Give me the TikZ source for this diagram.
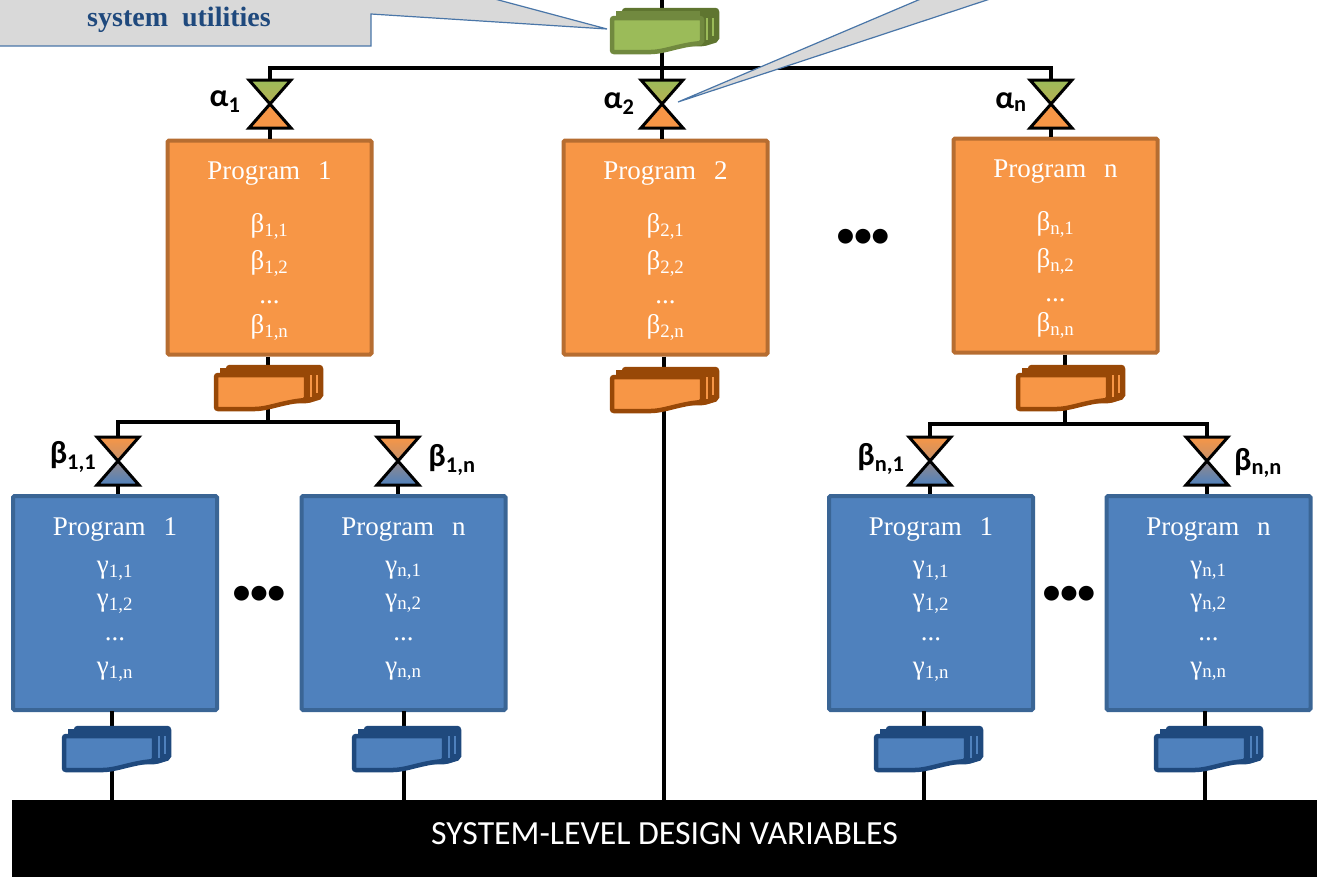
\documentclass[tikz,border=0pt]{standalone}
\usepackage{fontspec}
\setmainfont{Liberation Serif}
\setsansfont{Carlito}
\usetikzlibrary{calc,positioning}

\definecolor{orangefill}{HTML}{F79646}
\definecolor{orangeedge}{HTML}{B66D31}
\definecolor{orangedark}{HTML}{984807}
\definecolor{bluefill}{HTML}{4F81BD}
\definecolor{blueedge}{HTML}{3A6595}
\definecolor{bluedark}{HTML}{1F497D}
\definecolor{greenfill}{HTML}{9BBB59}
\definecolor{greenedge}{HTML}{71893F}
\definecolor{greendark}{HTML}{5F7530}
\definecolor{calloutfill}{HTML}{D9D9D9}
\definecolor{calloutedge}{HTML}{4A76A8}

\newcommand{\sub}[1]{\textsubscript{#1}}

\tikzset{
  wire/.style={line width=4.6pt, black},
  callout/.style={draw=calloutedge, fill=calloutfill, line width=1.2pt},
  progbox/.style={minimum width=204pt, minimum height=214pt, inner sep=0pt,
    rounded corners=1.5pt, line width=4pt, text=white, align=center,
    font=\fontsize{27}{32}\selectfont},
  orangebox/.style={progbox, draw=orangeedge, fill=orangefill},
  bluebox/.style={progbox, draw=blueedge, fill=bluefill},
  greek/.style={font=\sffamily\bfseries\fontsize{32}{36}\selectfont, inner sep=0pt},
  bigdots/.style={font=\sffamily\bfseries\fontsize{35}{35}\selectfont, inner sep=0pt},
  pics/docstack/.style n args={3}{code={
    \draw[line width=4.5pt, draw=#2, fill=#2, rounded corners=2pt]
      (-40,2) -- (53,2) -- (53,32) -- (40,36) -- (-40,36) -- cycle;
    \fill[#1] (48,10) rectangle (50,28);
    \fill[#1] (41.5,10) rectangle (43.5,32);
    \draw[line width=4.5pt, draw=#3, fill=#1, rounded corners=2pt]
      (-52,10) -- (38,10) -- (38,35)
      .. controls (15,37) and (0,44) .. (-15,44) -- (-52,44) -- cycle;
    \fill[#3] (-48,3) rectangle (36,12);
  }},
  pics/valve/.style n args={4}{code={
    \draw[line width=3pt, black, top color=#1, bottom color=#2]
      (-21,0) -- (21,0) -- (0,24) -- cycle;
    \draw[line width=3pt, black, top color=#3, bottom color=#4]
      (0,24) -- (21,48) -- (-21,48) -- cycle;
  }}
}

\begin{document}
\begin{tikzpicture}[x=1pt, y=-1pt]

    \useasboundingbox (0,0) rectangle (1317,879);

    % Valves
    \coordinate (valveA1) at (270,80);
    \coordinate (valveA2) at (662,80);
    \coordinate (valveAn) at (1051,80);
    \coordinate (valveB11) at (118,437);
    \coordinate (valveB1n) at (398,437);
    \coordinate (valveBn1) at (930,437);
    \coordinate (valveBnn) at (1207,437);

    % Document stacks
    \coordinate (docTop) at (664,8);
    \coordinate (doc1) at (268,365);
    \coordinate (doc2) at (664,367);
    \coordinate (docn) at (1070,365);
    \coordinate (doc11) at (116,726);
    \coordinate (doc1n) at (406,726);
    \coordinate (docn1) at (928,726);
    \coordinate (docnn) at (1208,726);

    % Top of the trunk and the two buses
    \coordinate (top) at (662,0);
    \coordinate (busA) at (662,68);
    \coordinate (busB) at (268,422);
    \coordinate (busN) at (1065,424);

    % Programs
    \node[orangebox] (prog1) at (269.5,247.5) {\strut\\[-30pt]Program\ \ \,1\\[21pt]%
      β\sub{1,1}\\[5pt]β\sub{1,2}\\[2pt]...\\[-2pt]β\sub{1,n}};
    \node[orangebox] (prog2) at (665.5,247.5) {\strut\\[-30pt]Program\ \ \,2\\[21pt]%
      β\sub{2,1}\\[5pt]β\sub{2,2}\\[2pt]...\\[-2pt]β\sub{2,n}};
    \node[orangebox] (progn) at (1055.5,245.5) {\strut\\[-30pt]Program\ \ \,n\\[21pt]%
      β\sub{n,1}\\[5pt]β\sub{n,2}\\[2pt]...\\[-2pt]β\sub{n,n}};

    \node[bluebox] (prog11) at (115,603) {Program\ \ \,1\\[6pt]%
      γ\sub{1,1}\\[1pt]γ\sub{1,2}\\[2pt]...\\[2pt]γ\sub{1,n}\\[-27pt]\strut};
    \node[bluebox] (prog1n) at (403.5,603) {Program\ \ \,n\\[6pt]%
      γ\sub{n,1}\\[1pt]γ\sub{n,2}\\[2pt]...\\[2pt]γ\sub{n,n}\\[-27pt]\strut};
    \node[bluebox] (progn1) at (931,603) {Program\ \ \,1\\[6pt]%
      γ\sub{1,1}\\[1pt]γ\sub{1,2}\\[2pt]...\\[2pt]γ\sub{1,n}\\[-27pt]\strut};
    \node[bluebox] (prognn) at (1208.5,603) {Program\ \ \,n\\[6pt]%
      γ\sub{n,1}\\[1pt]γ\sub{n,2}\\[2pt]...\\[2pt]γ\sub{n,n}\\[-27pt]\strut};

    % System level bar
    \node[fill=black, text=white, inner sep=0pt, minimum width=1305pt, minimum height=77pt,
      font=\sffamily\fontsize{33.8}{36}\selectfont] (bar) at (664.5,838.5)
      {\raisebox{10pt}{SYSTEM-LEVEL DESIGN VARIABLES}};

    % Wires of the upper level
    \draw[wire] (top) -- (busA);
    \draw[wire] (valveA1 |- prog1.north) -- (valveA1 |- busA) -- (valveAn |- busA) -- (valveAn |- progn.north);
    \draw[wire] (busA) -- (valveA2 |- prog2.north);

    % Wires of the lower level
    \draw[wire] (prog1.south -| busB) -- (busB);
    \draw[wire] (valveB11 |- prog11.north) -- (valveB11 |- busB) -- (valveB1n |- busB) -- (valveB1n |- prog1n.north);
    \draw[wire] (progn.south -| busN) -- (busN);
    \draw[wire] (valveBn1 |- progn1.north) -- (valveBn1 |- busN) -- (valveBnn |- busN) -- (valveBnn |- prognn.north);
    \draw[wire] (doc2 |- prog2.south) -- (doc2 |- bar.north);

    % Wires down to the bar
    \draw[wire] (112,711) -- (112 ,800);
    \draw[wire] (404,711) -- (404,800);
    \draw[wire] (924,711) -- (924,800);
    \draw[wire] (1205,711) -- (1205,800);

    % Stacks
    \pic at (docTop) {docstack={greenfill}{greendark}{greenedge}};
    \pic at (doc1) {docstack={orangefill}{orangedark}{orangedark}};
    \pic at (doc2) {docstack={orangefill}{orangedark}{orangedark}};
    \pic at (docn) {docstack={orangefill}{orangedark}{orangedark}};
    \pic at (doc11) {docstack={bluefill}{bluedark}{bluedark}};
    \pic at (doc1n) {docstack={bluefill}{bluedark}{bluedark}};
    \pic at (docn1) {docstack={bluefill}{bluedark}{bluedark}};
    \pic at (docnn) {docstack={bluefill}{bluedark}{bluedark}};

    % Valve symbols
    \pic at (valveA1) {valve={greenfill}{greenfill!70!orangefill}{orangefill}{orangefill}};
    \pic at (valveA2) {valve={greenfill}{greenfill!70!orangefill}{orangefill}{orangefill}};
    \pic at (valveAn) {valve={greenfill}{greenfill!70!orangefill}{orangefill}{orangefill}};
    \pic at (valveB11) {valve={orangefill}{orangefill!70!bluefill}{orangefill!40!bluefill}{bluefill}};
    \pic at (valveB1n) {valve={orangefill}{orangefill!70!bluefill}{orangefill!40!bluefill}{bluefill}};
    \pic at (valveBn1) {valve={orangefill}{orangefill!70!bluefill}{orangefill!40!bluefill}{bluefill}};
    \pic at (valveBnn) {valve={orangefill}{orangefill!70!bluefill}{orangefill!40!bluefill}{bluefill}};

    % Valve labels
    \node[greek] (alpha1) at (225,102) {α\sub{1}};
    \node[greek] (alpha2) at (619,104) {α\sub{2}};
    \node[greek] (alphan) at (1011,102) {α\sub{n}};
    \node[greek] (beta11) at (73,457) {β\sub{1,1}};
    \node[greek] (beta1n) at (452,460) {β\sub{1,n}};
    \node[greek] (betan1) at (881,459) {β\sub{n,1}};
    \node[greek] (betann) at (1258,463) {β\sub{n,n}};

    % Ellipses between the boxes
    \node[bigdots] (dotsA) at (863,238) {•••};
    \node[bigdots] (dotsB) at (259,595) {•••};
    \node[bigdots] (dotsC) at (1069,595) {•••};

    % Callouts
    \draw[callout] (-2,-2) -- (-2,46) -- (371,46) -- (371,14) -- (607,29) -- (491,-2) -- cycle;
    \draw[callout] (923,-2) -- (678,102) -- (993,-2) -- cycle;
    \node[font=\bfseries\fontsize{28}{32}\selectfont, text=bluedark, inner sep=0pt] (callText) at (179,20)
      {system\ \ utilities};

\end{tikzpicture}
\end{document}
